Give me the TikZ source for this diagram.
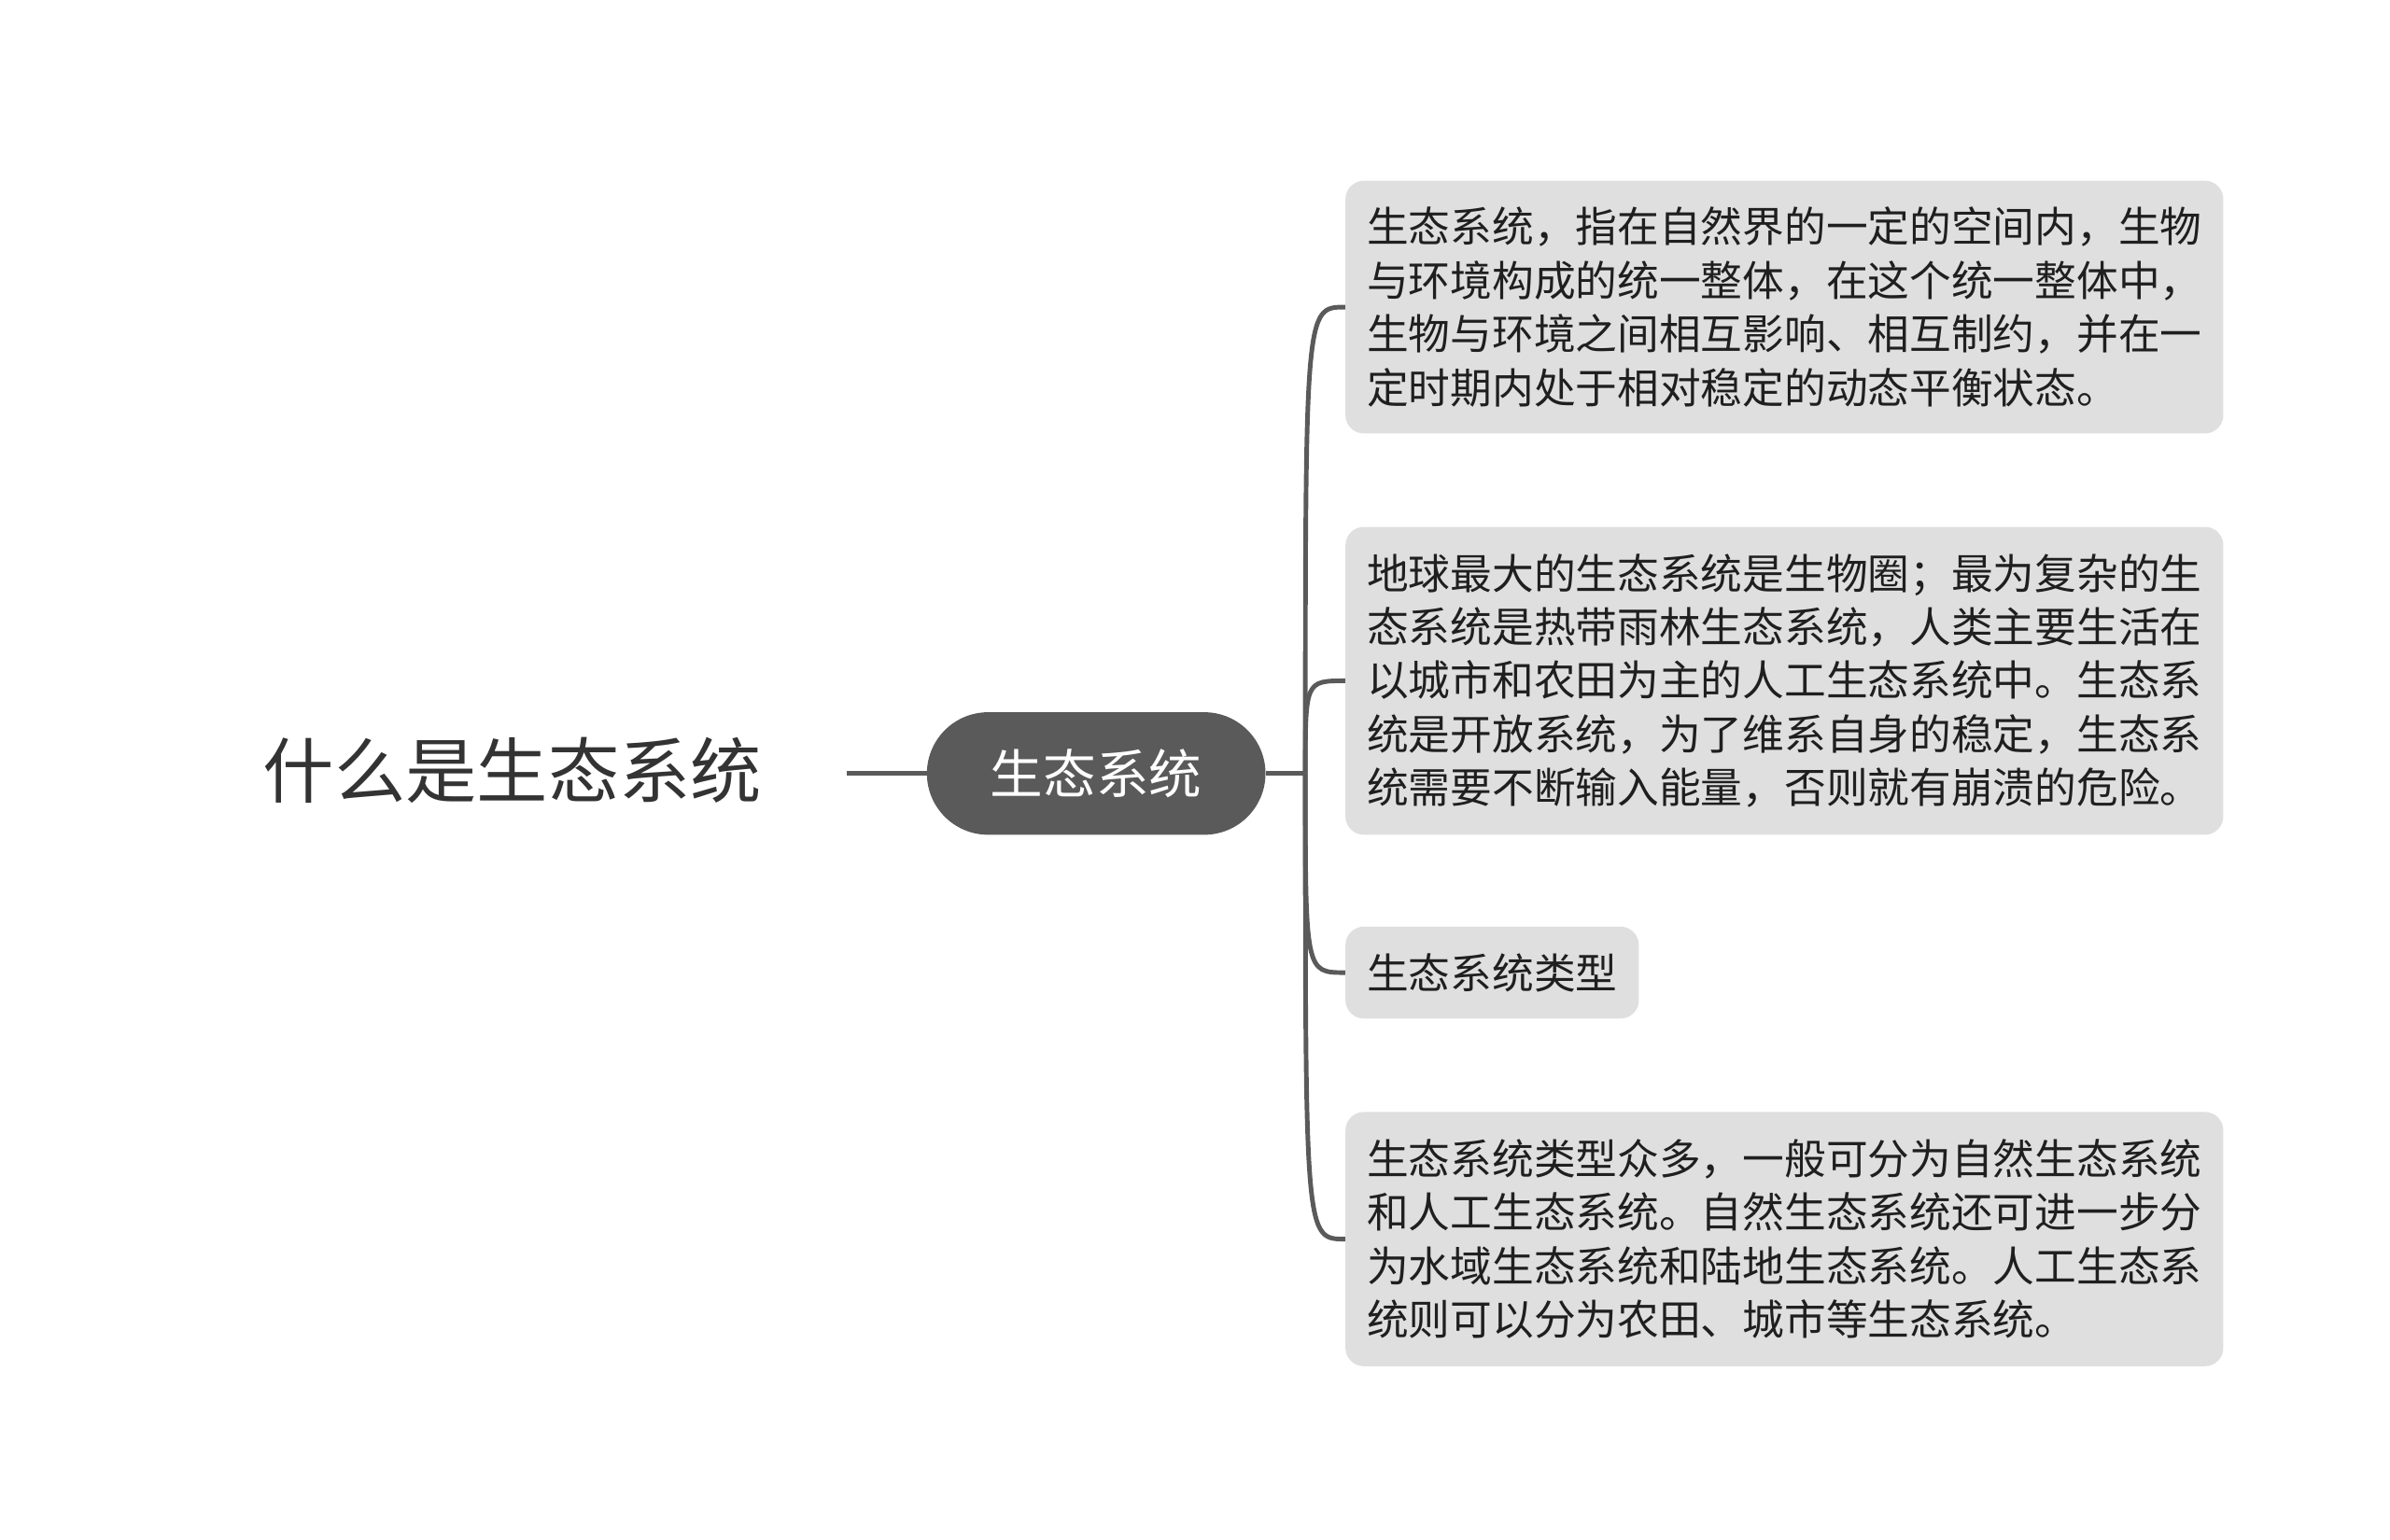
\documentclass[tikz,border=0pt]{standalone}
\usepackage{fontspec}
\setmainfont{Noto Sans CJK SC}
\usetikzlibrary{positioning}
\definecolor{linkgray}{HTML}{5A5A5A}
\definecolor{boxgray}{HTML}{DFDFDF}
\definecolor{titlegray}{HTML}{333333}
\begin{document}
\begin{tikzpicture}[x=1pt, y=-1pt,
		link/.style={draw=linkgray, line width=3pt},
		rootbox/.style={fill=linkgray, text=white, rounded corners=40pt, minimum width=221pt, minimum height=80pt, inner sep=0pt, font=\fontsize{34.5}{40}\selectfont},
		leaf/.style={fill=boxgray, rounded corners=12pt, anchor=west, align=left, inner xsep=14pt, inner ysep=0pt, text=black!88, font=\fontsize{27.25}{35}\selectfont}]
		\useasboundingbox (0,0) rectangle (1560,1005);

		% Title and central topic
		\node[text=titlegray, font=\fontsize{46.5}{50}\selectfont] (title) at (334.5,503) {什么是生态系统};
		\coordinate (tl) at (553,505);
		\node[rootbox] (root) at (715.5,505) {生态系统};
		\coordinate (hub) at (852,505);

		% Leaf boxes
		\node[leaf, minimum height=165pt] (b1) at (878,200.5) {生态系统，指在自然界的一定的空间内，生物\\与环境构成的统一整体，在这个统一整体中，\\生物与环境之间相互影响、相互制约，并在一\\定时期内处于相对稳定的动态平衡状态。};
		\node[leaf, minimum height=201pt] (b2) at (878,444.5) {地球最大的生态系统是生物圈；最为复杂的生\\态系统是热带雨林生态系统，人类主要生活在\\以城市和农田为主的人工生态系统中。生态系\\统是开放系统，为了维系自身的稳定，生态系\\统需要不断输入能量，否则就有崩溃的危险。};
		\node[leaf, minimum height=60pt] (b3) at (878,635) {生态系统类型};
		\node[leaf, minimum height=166pt] (b4) at (878,809) {生态系统类型众多，一般可分为自然生态系统\\和人工生态系统。自然生态系统还可进一步分\\为水域生态系统和陆地生态系统。人工生态系\\统则可以分为农田、城市等生态系统。};

		% Connectors
		\draw[link] (tl) -- (root.west);
		\draw[link] (root.east) -- (hub);
		\foreach \b in {b1,b2,b3,b4} {
				\draw[link] (hub) .. controls (hub |- \b.west) .. (\b.west);
			}
	\end{tikzpicture}
\end{document}
